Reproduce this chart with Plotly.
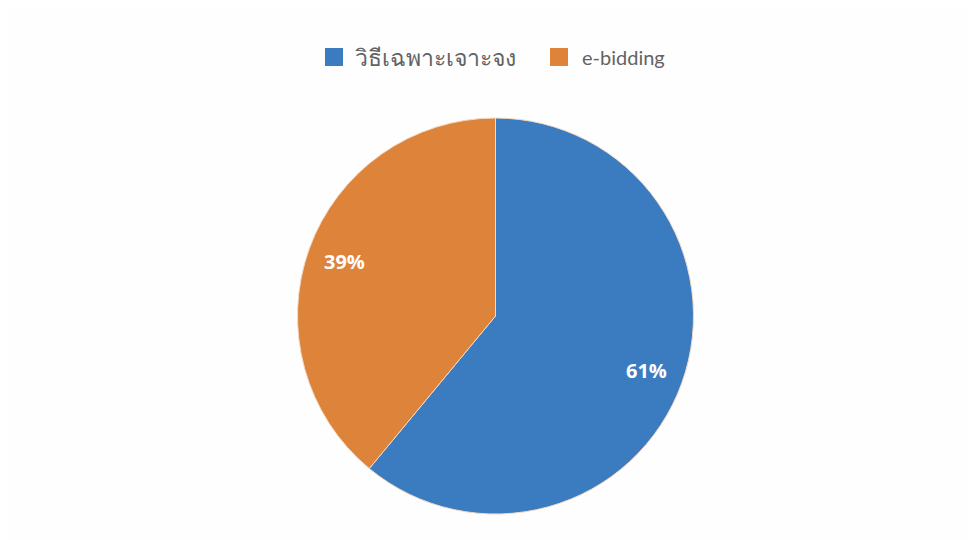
import math
import plotly.graph_objects as go

labels = ["วิธีเฉพาะเจาะจง", "e-bidding"]
values = [61, 39]
colors = ["#3b7cc0", "#dd833a"]

W, H = 975, 540
OFF = 8  # page body margin offset
cx, cy, r = 495.5 - OFF, 316 - OFF, 198

fig = go.Figure(go.Pie(
    labels=labels,
    values=values,
    sort=False,
    direction="clockwise",
    rotation=0,
    marker=dict(colors=colors, line=dict(color="#f3d9c6", width=1)),
    textinfo="none",
    hoverinfo="label+percent",
    showlegend=False,
    domain=dict(x=[(cx - r) / W, (cx + r) / W], y=[(H - cy - r) / H, (H - cy + r) / H]),
))

# percentage labels at mid-angle of each slice (~0.81 radius), like the original
total = sum(values)
acc = 0
for v in values:
    mid = (acc + v / 2) / total * 2 * math.pi
    acc += v
    px = cx + 0.81 * r * math.sin(mid)
    py = cy - 0.81 * r * math.cos(mid)
    fig.add_annotation(
        x=px / W, y=1 - py / H, xref="paper", yref="paper",
        text="<b>%d%%</b>" % round(v / total * 100), showarrow=False,
        font=dict(color="white", size=20, family="Open Sans, Noto Sans, DejaVu Sans"),
        xanchor="center", yanchor="middle",
    )

# legend drawn as squares + labels
legend_items = [(325, 353, 23, "Noto Sans, DejaVu Sans, sans-serif"),
                (550, 580, 20, "Lato, Noto Sans, sans-serif")]
for (sx, tx, fs, fam), lab, col in zip(legend_items, labels, colors):
    sx -= OFF
    tx -= OFF
    fig.add_shape(type="rect", xref="paper", yref="paper",
                  x0=sx / W, x1=(sx + 18) / W, y0=1 - (66 - OFF) / H, y1=1 - (48 - OFF) / H,
                  fillcolor=col, line=dict(width=0))
    fig.add_annotation(x=tx / W, y=1 - (57 - OFF) / H, xref="paper", yref="paper",
                       text=lab, showarrow=False, xanchor="left", yanchor="middle",
                       font=dict(size=fs, color="#636363", family=fam))

fig.update_layout(
    width=W, height=H,
    paper_bgcolor="#fefefe",
    plot_bgcolor="#fefefe",
    margin=dict(l=0, r=0, t=0, b=0),
    showlegend=False,
)

fig.write_html("out.html")
